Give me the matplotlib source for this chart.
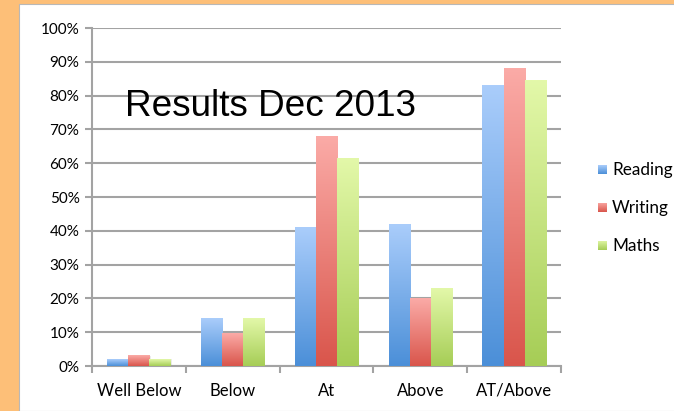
import numpy as np
import matplotlib.pyplot as plt
from matplotlib.colors import LinearSegmentedColormap
from matplotlib.patches import Rectangle

# data (percent)
categories = ['Well Below', 'Below', 'At', 'Above', 'AT/Above']
reading = [2, 14, 41, 42, 83]
writing = [3, 9.5, 68, 20, 88]
maths = [2, 14, 61.5, 23, 84.5]
series_names = ['Reading', 'Writing', 'Maths']
y_ticks = [0, 10, 20, 30, 40, 50, 60, 70, 80, 90, 100]

# gradient (top colour, bottom colour) per series
grads = [('#aacdfb', '#4b8fd8'), ('#fbaba7', '#d9554b'), ('#e3f8a9', '#a6cd56')]

fig = plt.figure(figsize=(6.74, 4.11), dpi=100)
fig.patch.set_facecolor('#fdbf78')
# white panel
fig.patches.append(Rectangle((19 / 674, 0), 1, 1 - 4 / 411, transform=fig.transFigure,
                             facecolor='white', edgecolor='#b8b8b8', lw=0.8, zorder=-5))

ax = fig.add_axes([92 / 674, 1 - 366 / 411, (561 - 92) / 674, (366 - 28) / 411])
ax.set_facecolor('none')
ax.set_zorder(1)

x = np.arange(len(categories))
w = 0.225
grad_img = np.linspace(1, 0, 256).reshape(-1, 1)
for i, vals in enumerate([reading, writing, maths]):
    cmap = LinearSegmentedColormap.from_list(series_names[i], [grads[i][1], grads[i][0]])
    bars = ax.bar(x + (i - 1) * w, vals, w, color='none', edgecolor='none', label=series_names[i])
    for b in bars:
        x0, y0 = b.get_x(), b.get_y()
        # soft shadow to the right
        ax.add_patch(Rectangle((x0 + 0.012, y0), b.get_width(), b.get_height(),
                               facecolor='#000000', alpha=0.08, zorder=2, lw=0))
        ax.imshow(grad_img, cmap=cmap, extent=[x0, x0 + b.get_width(), y0, y0 + b.get_height()],
                  aspect='auto', zorder=3, vmin=0, vmax=1)

ax.set_xlim(-0.5, len(categories) - 0.5)
ax.set_ylim(0, 100)

ax.set_yticks(y_ticks)
ax.set_yticklabels([f'{v}%' for v in y_ticks], fontsize=11, family='Lato')
ax.yaxis.grid(True, color='#a3a3a3', lw=1.5)
ax.set_axisbelow(True)

ax.set_xticks(x)
ax.set_xticklabels(categories, fontsize=12, family='Lato')
ax.tick_params(axis='x', length=0, pad=12)
ax.set_xticks(np.arange(len(categories) + 1) - 0.5, minor=True)
ax.tick_params(axis='x', which='minor', length=5, color='#a3a3a3', width=1.5)
ax.tick_params(axis='y', length=5, color='#a3a3a3', width=1.5, pad=4)

for s in ['top', 'right']:
    ax.spines[s].set_visible(False)
ax.spines['left'].set_color('#a3a3a3')
ax.spines['left'].set_linewidth(1.5)
ax.spines['bottom'].set_color('#a3a3a3')
ax.spines['bottom'].set_linewidth(1.5)

fig.text(125 / 674, 1 - 107 / 411, 'Results Dec 2013', fontsize=26.6, family='Liberation Sans',
         va='center', ha='left', zorder=5)

# legend
leg_y = [170, 208, 246]
leg_img = np.linspace(1, 0, 64).reshape(-1, 1)
for i, name in enumerate(series_names):
    cy = 1 - leg_y[i] / 411
    lax = fig.add_axes([598 / 674, cy - 4.5 / 411, 9 / 674, 9 / 411])
    lcmap = LinearSegmentedColormap.from_list(name + '_leg', [grads[i][1], grads[i][0]])
    lax.imshow(leg_img, cmap=lcmap, aspect='auto', vmin=0, vmax=1)
    lax.axis('off')
    fig.text(612 / 674, cy, name, fontsize=12.3, family='Lato', va='center', ha='left')

plt.savefig('out.png', dpi=100, facecolor=fig.get_facecolor())
